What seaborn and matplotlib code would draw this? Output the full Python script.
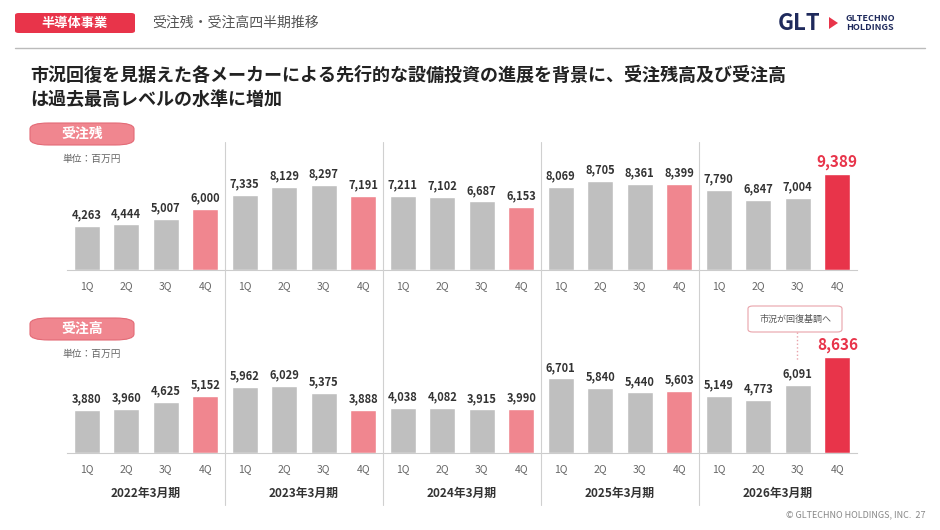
import numpy as np
import pandas as pd
import matplotlib.pyplot as plt
from matplotlib.patches import FancyBboxPatch, Polygon
from matplotlib.lines import Line2D
import seaborn as sns

sns.set_theme(style="white")
plt.rcParams["font.family"] = ["Noto Sans CJK JP", "DejaVu Sans"]

W, H = 940, 530
GRAY = "#BFBFBF"
PINK = "#F0868F"
RED = "#E8344A"
DARK = "#333333"

YEARS = ["2022年3月期", "2023年3月期", "2024年3月期", "2025年3月期", "2026年3月期"]
QUARTERS = ["1Q", "2Q", "3Q", "4Q"]

backlog = [4263, 4444, 5007, 6000, 7335, 8129, 8297, 7191,
           7211, 7102, 6687, 6153, 8069, 8705, 8361, 8399,
           7790, 6847, 7004, 9389]
orders = [3880, 3960, 4625, 5152, 5962, 6029, 5375, 3888,
          4038, 4082, 3915, 3990, 6701, 5840, 5440, 5603,
          5149, 4773, 6091, 8636]

colors = []
for i in range(20):
    if i == 19:
        colors.append(RED)
    elif i % 4 == 3:
        colors.append(PINK)
    else:
        colors.append(GRAY)


def px(x0, y0, x1, y1):
    # pixel box (top-left origin) -> figure fraction rect
    return [x0 / W, 1 - y1 / H, (x1 - x0) / W, (y1 - y0) / H]


def fx(x):
    return x / W


def fy(y):
    return 1 - y / H


fig = plt.figure(figsize=(9.4, 5.3), dpi=100)


def draw_panel(values, rect, ymax):
    ax = fig.add_axes(rect)
    df = pd.DataFrame({"pos": [str(i) for i in range(20)], "val": values})
    sns.barplot(data=df, x="pos", y="val", hue="pos", palette=colors,
                legend=False, width=0.66, ax=ax, saturation=1)
    ax.set_xlim(-0.5, 19.5)
    ax.set_ylim(0, ymax)
    off = ymax * 0.036
    for i, v in enumerate(values):
        if i == 19:
            ax.text(i, v + off * 0.8, f"{v:,}", ha="center", va="bottom",
                    fontsize=11, fontweight="bold", color=RED)
        else:
            ax.text(i, v + off, f"{v:,}", ha="center", va="bottom",
                    fontsize=8, fontweight="bold", color=DARK)
    ax.set_xticks(range(20))
    ax.set_xticklabels(QUARTERS * 5, fontsize=7.5, color="#666666")
    ax.tick_params(axis="x", length=0, pad=8)
    ax.set_yticks([])
    ax.set_xlabel("")
    ax.set_ylabel("")
    for s in ["top", "right", "left"]:
        ax.spines[s].set_visible(False)
    ax.spines["bottom"].set_color("#CCCCCC")
    ax.spines["bottom"].set_linewidth(0.8)
    return ax


ax_top = draw_panel(backlog, px(67, 145, 857, 270), 12200)
ax_bot = draw_panel(orders, px(67, 330, 857, 453), 11050)

# group separators
for k in range(1, 5):
    xs = 67 + 4 * k * (790 / 20)
    fig.add_artist(Line2D([fx(xs), fx(xs)], [fy(142), fy(505)],
                          color="#D0D0D0", lw=0.8))

# year labels
for k, yl in enumerate(YEARS):
    xc = 67 + (4 * k + 2) * (790 / 20)
    fig.text(fx(xc), fy(493), yl, ha="center", va="center",
             fontsize=8.5, fontweight="bold", color=DARK)

# header
fig.add_artist(FancyBboxPatch((fx(15), fy(33)), fx(120), 20 / H,
                              boxstyle="round,pad=0,rounding_size=0.004",
                              fc=RED, ec="none"))
fig.text(fx(75), fy(23), "半導体事業", ha="center", va="center",
         fontsize=9.5, fontweight="bold", color="white")
fig.text(fx(152), fy(23), "受注残・受注高四半期推移", ha="left", va="center",
         fontsize=10, color="#555555")
fig.text(fx(778), fy(23), "GLT", ha="left", va="center",
         fontsize=16, fontweight="bold", color="#1F2A5C")
fig.add_artist(Polygon([(fx(829), fy(17)), (fx(829), fy(29)), (fx(838), fy(23))],
                       closed=True, fc=RED, ec="none"))
fig.text(fx(846), fy(23), "GLTECHNO\nHOLDINGS", ha="left", va="center",
         fontsize=6.5, fontweight="bold", color="#1F2A5C", linespacing=1.0)
fig.add_artist(Line2D([fx(15), fx(925)], [fy(48), fy(48)], color="#BBBBBB", lw=1))

fig.text(fx(30), fy(75), "市況回復を見据えた各メーカーによる先行的な設備投資の進展を背景に、受注残高及び受注高",
         ha="left", va="center", fontsize=13, fontweight="bold", color="#222222")
fig.text(fx(30), fy(99), "は過去最高レベルの水準に増加",
         ha="left", va="center", fontsize=13, fontweight="bold", color="#222222")

# section pills
for label, ytop in [("受注残", 123), ("受注高", 318)]:
    fig.add_artist(FancyBboxPatch((fx(30), fy(ytop + 22)), fx(104), 22 / H,
                                  boxstyle="round,pad=0,rounding_size=0.02",
                                  fc=PINK, ec="#E36A76", lw=0.8,
                                  mutation_aspect=H / W))
    fig.text(fx(82), fy(ytop + 11), label, ha="center", va="center",
             fontsize=10, fontweight="bold", color="white")
    fig.text(fx(62), fy(ytop + 36), "単位：百万円", ha="left", va="center",
             fontsize=7, color="#666666")

# annotation
fig.add_artist(FancyBboxPatch((fx(748), fy(332)), fx(94), 26 / H,
                              boxstyle="round,pad=0,rounding_size=0.005",
                              fc="white", ec="#E9A3AA", lw=0.8))
fig.text(fx(795), fy(319), "市況が回復基調へ", ha="center", va="center",
         fontsize=6.5, color="#555555")
fig.add_artist(Line2D([fx(797), fx(797)], [fy(332), fy(360)],
                      color="#E9A3AA", lw=1, ls=":"))

fig.text(fx(925), fy(515), "© GLTECHNO HOLDINGS, INC.  27", ha="right", va="center",
         fontsize=6.5, color="#888888")

fig.savefig("out.png", dpi=100)
